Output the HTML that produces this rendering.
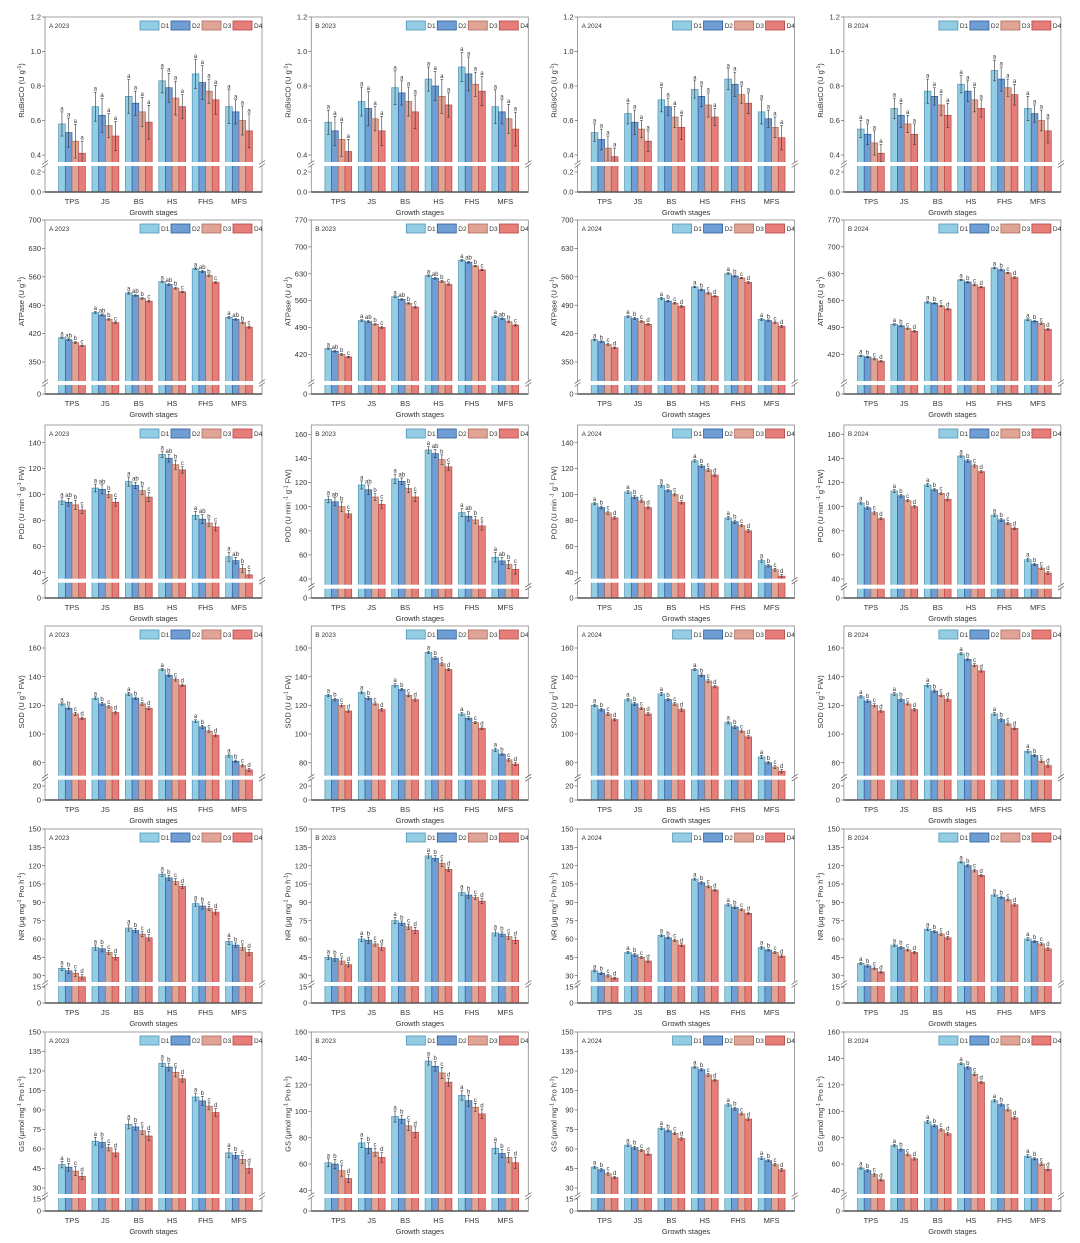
<!DOCTYPE html>
<html><head><meta charset="utf-8"><style>
html,body{margin:0;padding:0;background:#fff}
svg{display:block}
text{font-family:"Liberation Sans",sans-serif;fill:#333}
</style></head><body>
<svg id="s" xmlns="http://www.w3.org/2000/svg" width="1080" height="1243" viewBox="0 0 1080 1243"></svg>
<script>
const NS="http://www.w3.org/2000/svg";
const S=document.getElementById('s');
function el(t,a,p){const e=document.createElementNS(NS,t);for(const k in a)e.setAttribute(k,a[k]);(p||S).appendChild(e);return e;}
const fill=['#93cde4','#6e9ed3','#dfa495','#e67d78'];
const edge=['#4f93b5','#2f5e98','#b06a5a','#b44745'];
const cats=['TPS','JS','BS','HS','FHS','MFS'];
const rows=[
 {top:17,h:175,lab:['RuBisCO (U g','-1',')'],
  ax:[{ticks:[0.4,0.6,0.8,1.0,1.2],m:[1.2,0,0.4,138],br:147,low:[0.2,155],dec:1},null,null,null],err:[0.07,0.07,0.05,0.05],
  data:[
  [[.58,.53,.48,.41],[.68,.63,.57,.51],[.74,.70,.65,.59],[.83,.79,.73,.68],[.87,.82,.77,.72],[.68,.65,.60,.54]],
  [[.59,.54,.49,.42],[.71,.67,.61,.54],[.79,.76,.71,.65],[.84,.80,.74,.69],[.91,.87,.81,.77],[.68,.65,.61,.55]],
  [[.53,.49,.44,.39],[.64,.59,.55,.48],[.72,.68,.62,.56],[.78,.74,.69,.62],[.84,.81,.75,.70],[.65,.61,.56,.50]],
  [[.55,.52,.47,.41],[.67,.63,.58,.52],[.77,.74,.69,.63],[.81,.77,.72,.67],[.89,.84,.79,.75],[.67,.64,.60,.54]]],
  let:['a','a','a','a']},
 {top:220,h:174,lab:['ATPase (U g','-1',')'],
  ax:[{ticks:[350,420,490,560,630,700],m:[700,0,350,142],br:163},
      {ticks:[420,490,560,630,700,770],m:[770,0,420,134.3],br:163}],err:[1.8,1.8,1.8,1.8],
  data:[
  [[410,405,398,390],[472,466,455,447],[520,514,507,500],[548,541,532,523],[580,573,563,546],[460,455,447,436]],
  [[435,428,420,413],[508,505,498,490],[570,563,553,543],[625,618,610,602],[665,660,650,640],[518,513,505,496]],
  [[405,400,393,385],[462,457,450,443],[507,500,495,487],[535,528,520,512],[568,562,557,546],[455,452,447,438]],
  [[416,413,408,402],[498,494,487,480],[556,553,546,538],[614,608,601,595],[645,640,632,620],[510,506,500,485]]]},
 {top:425,h:173,lab:['POD (U min',' -1',' g','-1',' FW)'],
  ax:[{ticks:[40,60,80,100,120,140],m:[140,17.7,40,147.3],br:155.7},
      {ticks:[40,60,80,100,120,140,160],m:[160,9.3,40,154],br:161.7}],err:[2.5,2.8,0.9,0.9],
  data:[
  [[95,94,92,88],[105,104,100,94],[110,107,103,98],[131,128,123,119],[84,81,78,75],[52,49,43,38]],
  [[106,104,100,94],[118,114,108,102],[123,121,115,108],[147,144,139,133],[95,92,89,84],[58,55,52,48]],
  [[93,90,86,82],[102,98,95,90],[107,103,100,94],[126,122,119,115],[82,79,76,72],[49,45,42,37]],
  [[103,99,95,90],[113,109,105,100],[118,114,111,106],[142,138,134,129],[93,89,86,82],[56,52,49,45]]]},
 {top:626,h:174,lab:['SOD (U g','-1',' FW)'],
  ax:[{ticks:[80,100,120,140,160],m:[160,22,80,136.7],br:151.7,low:[20,160]},null,null,null],err:[0.8,0.8,0.8,0.8],
  data:[
  [[121,118,114,111],[125,121,119,115],[128,125,121,118],[145,141,138,134],[109,105,102,99],[85,81,78,75]],
  [[127,124,120,116],[129,125,121,117],[134,131,127,124],[157,153,149,145],[114,111,108,104],[89,86,82,79]],
  [[120,117,114,110],[124,121,118,114],[128,124,121,117],[145,141,137,133],[108,105,102,98],[84,80,77,74]],
  [[126,123,120,116],[128,124,121,117],[134,130,127,124],[156,152,148,144],[114,110,107,104],[88,85,81,78]]]},
 {top:829,h:174,lab:['NR (μg mg','-1',' Pro h','-1',')'],
  ax:[{ticks:[30,45,60,75,90,105,120,135,150],m:[150,0,30,146.7],br:155,low:[15,158]},null,null,null],err:[1.8,1.8,0.8,0.8],
  data:[
  [[36,34,32,29],[53,52,49,45],[69,67,64,61],[113,110,107,103],[89,87,85,82],[58,55,53,49]],
  [[45,44,42,39],[60,59,56,53],[75,73,70,67],[128,126,122,117],[98,96,94,91],[65,64,62,59]],
  [[34,32,30,28],[49,47,45,42],[63,61,59,55],[109,106,103,100],[88,86,84,81],[53,51,49,46]],
  [[40,38,36,33],[55,53,51,49],[68,66,64,61],[123,120,116,112],[96,94,92,88],[60,58,56,52]]]},
 {top:1032,h:179,lab:['GS (μmol mg','-1',' Pro h','-1',')'],
  ax:[{ticks:[30,45,60,75,90,105,120,135,150],m:[150,0,30,156],br:164,low:[15,167]},
      {ticks:[40,60,80,100,120,140,160],m:[160,0,40,158.5],br:164}],err:[2.5,3,0.8,0.8],
  data:[
  [[48,46,43,39],[66,65,61,57],[79,77,74,70],[126,123,119,114],[100,97,93,88],[57,55,52,45]],
  [[61,60,55,49],[76,72,69,65],[96,94,89,84],[138,134,129,122],[112,108,103,98],[72,68,65,61]],
  [[46,44,41,38],[63,61,59,56],[76,74,72,68],[123,121,117,113],[94,91,87,83],[53,51,48,44]],
  [[57,55,52,48],[74,71,67,64],[92,89,86,83],[136,133,128,122],[108,105,101,95],[66,64,60,56]]]}
];
const titles=['A 2023','B 2023','A 2024','B 2024'];
const W=217;
rows.forEach((R,ri)=>{
 for(let c=0;c<4;c++){
  let ax=R.ax[c]||(R.ax.length==2?R.ax[c%2]:R.ax[0]);
  const L=45+266.3*c, T=R.top, H=R.h, B=T+H;
  const [v1,p1,v2,p2]=ax.m; const k=(p2-p1)/(v2-v1);
  const Y=v=>T+p1+(v-v1)*k;
  R.data[c].forEach((g,gi)=>{
   const cx=L+27+33.4*gi;
   g.forEach((v,bi)=>{
    const x=cx-13.4+bi*6.7, y=Y(v);
    el('rect',{x:x,y:y,width:6.7,height:B-y,fill:fill[bi],stroke:edge[bi],'stroke-width':0.7});
    const e=R.err[c]*(1+0.4*((gi+bi)%3)/2);
    const ye=Y(v+e), yl=Y(v-e);
    el('line',{x1:x+3.35,x2:x+3.35,y1:ye,y2:yl,stroke:'#333','stroke-width':0.6});
    el('line',{x1:x+2,x2:x+4.7,y1:ye,y2:ye,stroke:'#333','stroke-width':0.6});
    el('line',{x1:x+2,x2:x+4.7,y1:yl,y2:yl,stroke:'#333','stroke-width':0.6});
    const lt=R.let?R.let[bi]:(ri<3&&c<2?['a','ab','b','c'][bi]:'abcd'[bi]);
    const t=el('text',{x:x+3.35,y:ye-1.5,'font-size':6,'text-anchor':'middle'});t.textContent=lt;
   });
   const t=el('text',{x:cx,y:B+12,'font-size':7.5,'text-anchor':'middle'});t.textContent=cats[gi];
  });
  el('rect',{x:L-1,y:T+ax.br-2,width:W+2,height:4,fill:'#fff'});
  el('rect',{x:L,y:T,width:W,height:H,fill:'none',stroke:'#8a8a8a','stroke-width':0.8});
  el('line',{x1:L,x2:L+W,y1:B,y2:B,stroke:'#555','stroke-width':1.4});
  el('rect',{x:L-1,y:T+ax.br-2,width:1.9,height:4,fill:'#fff'});
  el('rect',{x:L+W-1,y:T+ax.br-2,width:1.9,height:4,fill:'#fff'});
  [L,L+W].forEach(xx=>{
   el('line',{x1:xx-3,y1:T+ax.br+0.5,x2:xx+3,y2:T+ax.br-3.5,stroke:'#555','stroke-width':0.7});
   el('line',{x1:xx-3,y1:T+ax.br+3.5,x2:xx+3,y2:T+ax.br-0.5,stroke:'#555','stroke-width':0.7});
  });
  ax.ticks.forEach(v=>{
   const y=Y(v);
   el('line',{x1:L-3,x2:L,y1:y,y2:y,stroke:'#666','stroke-width':0.7});
   const t=el('text',{x:L-4,y:y+2.6,'font-size':7.5,'text-anchor':'end'});t.textContent=ax.dec?v.toFixed(1):v;
  });
  const lows=[[0,H]]; if(ax.low) lows.push([ax.low[0],ax.low[1]]);
  lows.forEach(([v,p])=>{
   const y=T+p;
   el('line',{x1:L-3,x2:L,y1:y,y2:y,stroke:'#666','stroke-width':0.7});
   const t=el('text',{x:L-4,y:y+2.6,'font-size':7.5,'text-anchor':'end'});t.textContent=ax.dec?v.toFixed(1):v;
  });
  let t=el('text',{x:L+4,y:T+11,'font-size':6.5});t.textContent=titles[c];
  for(let i=0;i<4;i++){
   const bx=L+95+31*i;
   el('rect',{x:bx,y:T+4,width:19,height:9,fill:fill[i],stroke:edge[i],'stroke-width':0.8});
   t=el('text',{x:bx+21,y:T+11,'font-size':6.5});t.textContent='D'+(i+1);
  }
  t=el('text',{x:L+W/2,y:B+23,'font-size':7.5,'text-anchor':'middle'});t.textContent='Growth stages';
  const ym=T+ax.br/2;
  t=el('text',{x:0,y:0,'font-size':7.5,'text-anchor':'middle',transform:`translate(${L-21},${ym}) rotate(-90)`});
  R.lab.forEach((s,i)=>{const sp=el('tspan',{},t);if(i%2==1){sp.setAttribute('font-size',5);sp.setAttribute('dy',-3);}else if(i>0){sp.setAttribute('dy',3);}sp.textContent=s;});
 }
});
</script>
</body></html>
